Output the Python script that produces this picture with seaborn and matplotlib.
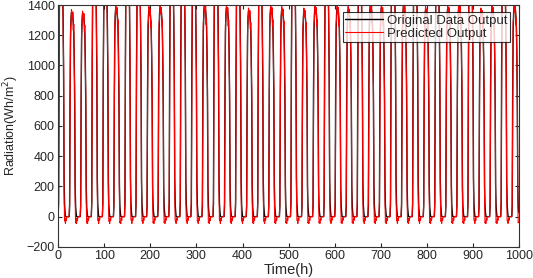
import numpy as np
import pandas as pd
import matplotlib
matplotlib.use('Agg')
import matplotlib.pyplot as plt
import seaborn as sns

# daily maximum radiation (Wh/m2), one value per day
# (many days go above the 1400 limit of the axis and are clipped)
day_peak = [1650, 1350, 1340, 1700, 1600, 1380, 1750, 1600, 1370, 1380,
            1650, 1700, 1600, 1390, 1700, 1380, 1650, 1360, 1600, 1380,
            1370, 1700, 1360, 1380, 1650, 1380, 1370, 1600, 1390, 1380,
            1700, 1390, 1650, 1370, 1600, 1380, 1390, 1700, 1360, 1380,
            1650, 1390]

# shape of one day (hour 0..23) as a fraction of that day's maximum
day_shape = [0.0, 0.05, 0.6, 0.88, 0.97, 1.0, 1.0, 1.0, 0.98, 0.95,
             0.9, 0.78, 0.55, 0.15, 0.05, 0.02, 0.0, 0.0, 0.0, 0.0,
             0.0, 0.0, 0.0, 0.0]

# prediction error over one day (Wh/m2)
day_error = [0, 30, -120, 60, -30, 20, 0, -40, 30, -50,
             60, -60, 90, -90, -110, -60, -45, -10, -25, 0,
             0, 0, 0, 0]

n_hours = 1000

# Build the hourly series
orig = np.concatenate([np.array(day_shape) * p for p in day_peak])[:n_hours]
err = np.tile(day_error, len(day_peak))[:n_hours]
pred = orig + err
df = pd.DataFrame({'time': np.arange(n_hours), 'orig': orig, 'pred': pred})

sns.set_style('ticks')
plt.rcParams['font.family'] = ['Liberation Sans', 'DejaVu Sans']
plt.rcParams['xtick.direction'] = 'in'
plt.rcParams['ytick.direction'] = 'in'

fig = plt.figure(figsize=(5.33, 2.78), dpi=100)
ax = fig.add_axes([0.109, 0.112, 0.865, 0.870])

sns.lineplot(x='time', y='orig', data=df, color='black', lw=1.0, ax=ax,
             label='Original Data Output')
sns.lineplot(x='time', y='pred', data=df, color='#ff0000', lw=0.8, ax=ax,
             label='Predicted Output')

ax.set_xlim(0, 1000)
ax.set_ylim(-200, 1400)
ax.set_xticks(range(0, 1001, 100))
ax.set_yticks(range(-200, 1401, 200))
ax.tick_params(top=True, right=True, length=3, labelsize=9, width=0.8, pad=2.5)
for s in ax.spines.values():
    s.set_color('#333333')
    s.set_linewidth(0.8)

ax.set_xlabel('Time(h)', fontsize=10.5, labelpad=0.5)
ax.set_ylabel('Radiation(Wh/m$^2$)', fontsize=9, labelpad=4)

leg = ax.legend(loc='upper right', bbox_to_anchor=(0.985, 0.98), fontsize=9.5,
                frameon=True, fancybox=False, handlelength=2.9,
                borderpad=0.15, labelspacing=0.05, handletextpad=0.3,
                borderaxespad=0.2)
leg.get_frame().set_edgecolor('black')
leg.get_frame().set_linewidth(0.8)

fig.savefig('out.png', dpi=100)
